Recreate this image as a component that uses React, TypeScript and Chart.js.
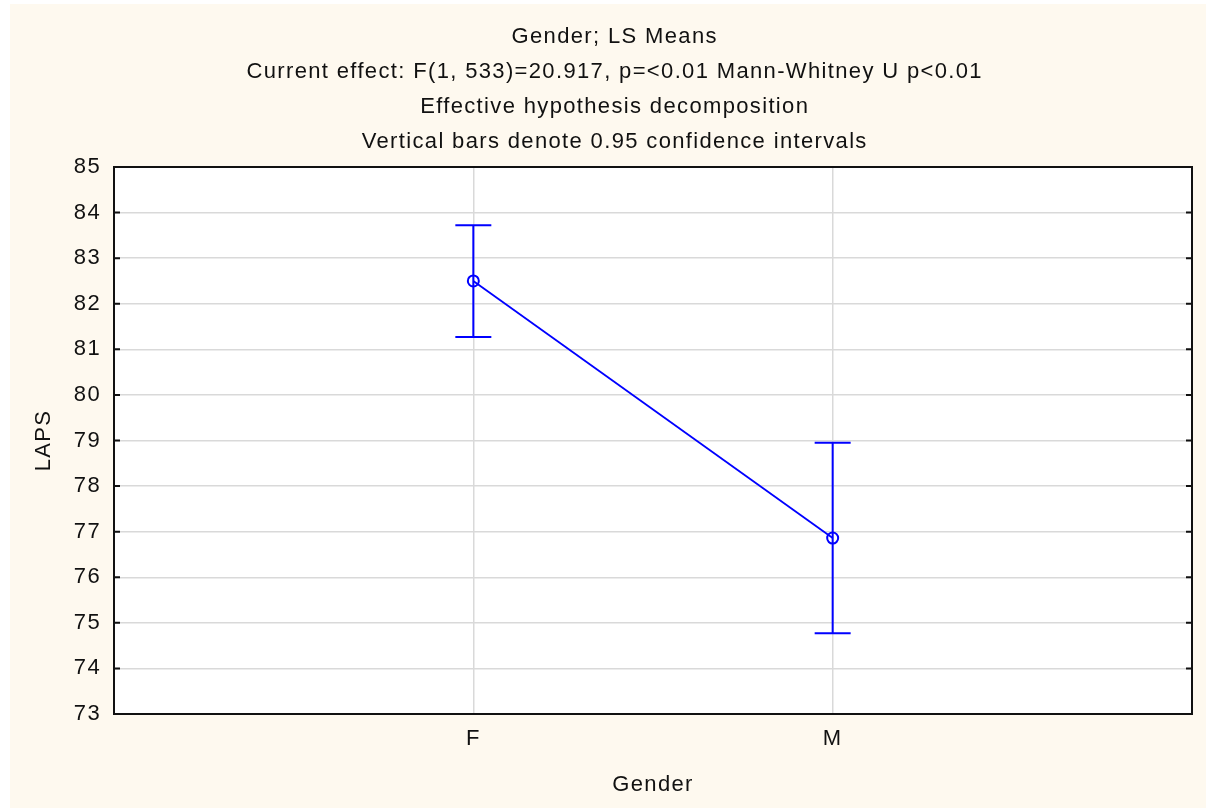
import React, { useEffect, useRef } from "react";
import { Chart, registerables } from "chart.js";

Chart.register(...registerables);

const categories = ["F", "M"];
const means = [82.5, 76.86];
const upperCI = [83.72, 78.95];
const lowerCI = [81.27, 74.77];
const titleLines = [
  "Gender; LS Means",
  "Current effect: F(1, 533)=20.917, p=<0.01 Mann-Whitney U p<0.01",
  "Effective hypothesis decomposition",
  "Vertical bars denote 0.95 confidence intervals",
];
const yMin = 73;
const yMax = 85;
const xAxisTitle = "Gender";
const yAxisTitle = "LAPS";

const FONT = "'Liberation Sans', Arial, Helvetica, sans-serif";
const BLUE = "#0000FF";
const SPACING = "1.35px";

export default function App() {
  const canvasRef = useRef<HTMLCanvasElement | null>(null);

  useEffect(() => {
    const canvas = canvasRef.current;
    if (!canvas) return;

    const framePlugin = {
      id: "frameAndBars",
      beforeDraw(chart: any) {
        const { ctx, chartArea } = chart;
        ctx.save();
        ctx.fillStyle = "#FFFFFF";
        ctx.fillRect(chartArea.left, chartArea.top, chartArea.right - chartArea.left, chartArea.bottom - chartArea.top);
        ctx.restore();
        (ctx as any).letterSpacing = SPACING;
      },
      afterDatasetsDraw(chart: any) {
        const { ctx } = chart;
        const xs = chart.scales.x;
        const ys = chart.scales.y;
        ctx.save();
        ctx.strokeStyle = BLUE;
        ctx.lineWidth = 2;
        const cap = 18;
        categories.forEach((_, i) => {
          const x = xs.getPixelForValue(i + 1);
          const yt = ys.getPixelForValue(upperCI[i]);
          const yb = ys.getPixelForValue(lowerCI[i]);
          ctx.beginPath();
          ctx.moveTo(x, yt);
          ctx.lineTo(x, yb);
          ctx.moveTo(x - cap, yt);
          ctx.lineTo(x + cap, yt);
          ctx.moveTo(x - cap, yb);
          ctx.lineTo(x + cap, yb);
          ctx.stroke();
        });
        ctx.restore();
      },
      afterDraw(chart: any) {
        const { ctx, chartArea } = chart;
        const ys = chart.scales.y;
        ctx.save();
        ctx.strokeStyle = "#111111";
        ctx.lineWidth = 2;
        ys.ticks.forEach((t: any) => {
          const y = ys.getPixelForValue(t.value);
          ctx.beginPath();
          ctx.moveTo(chartArea.left, y);
          ctx.lineTo(chartArea.left + 6, y);
          ctx.moveTo(chartArea.right, y);
          ctx.lineTo(chartArea.right - 6, y);
          ctx.stroke();
        });
        ctx.strokeRect(chartArea.left, chartArea.top, chartArea.right - chartArea.left, chartArea.bottom - chartArea.top);

        // multi-line title
        (ctx as any).letterSpacing = SPACING;
        ctx.fillStyle = "#111111";
        ctx.font = `22px ${FONT}`;
        ctx.textAlign = "center";
        ctx.textBaseline = "middle";
        const cx = 604.7;
        titleLines.forEach((line, i) => {
          ctx.fillText(line, cx, 32.6 + i * 35.2);
        });
        ctx.restore();
      },
    };

    const chart = new Chart(canvas, {
      type: "line",
      data: {
        datasets: [
          {
            data: means.map((m, i) => ({ x: i + 1, y: m })),
            borderColor: BLUE,
            borderWidth: 1.8,
            pointRadius: 5.5,
            pointBorderWidth: 2,
            pointBorderColor: BLUE,
            pointBackgroundColor: "rgba(0,0,0,0)",
            pointStyle: "circle",
            tension: 0,
            fill: false,
          },
        ],
      },
      options: {
        responsive: false,
        animation: false,
        layout: { padding: { left: 0, right: 14, top: 163, bottom: 0 } },
        plugins: {
          legend: { display: false },
          tooltip: { enabled: false },
          title: { display: false },
        },
        scales: {
          x: {
            type: "linear",
            min: 0,
            max: categories.length + 1,
            afterBuildTicks: (scale: any) => {
              scale.ticks = categories.map((_, i) => ({ value: i + 1 }));
            },
            afterFit: (scale: any) => {
              scale.height = 94;
            },
            ticks: {
              color: "#111111",
              font: { family: FONT, size: 22 },
              padding: 12,
              maxRotation: 0,
              autoSkip: false,
              callback: (v: any) => categories[Number(v) - 1] ?? "",
            },
            grid: { color: "#D9D9D9", lineWidth: 1.5, drawTicks: false },
            border: { display: false },
            title: {
              display: true,
              text: xAxisTitle,
              color: "#111111",
              font: { family: FONT, size: 22 },
              padding: { top: 0, bottom: 10 },
            },
          },
          y: {
            type: "linear",
            min: yMin,
            max: yMax,
            afterFit: (scale: any) => {
              scale.width = 104;
            },
            ticks: {
              stepSize: 1,
              color: "#111111",
              font: { family: FONT, size: 22 },
              padding: 13,
            },
            grid: { color: "#D9D9D9", lineWidth: 1.5, drawTicks: false },
            border: { display: false },
            title: {
              display: true,
              text: yAxisTitle,
              color: "#111111",
              font: { family: FONT, size: 22 },
              padding: { top: 21, bottom: 0 },
            },
          },
        },
      },
      plugins: [framePlugin],
    } as any);

    return () => {
      chart.destroy();
    };
  }, []);

  return (
    <div style={{ position: "fixed", left: 0, top: 0, width: 1206, height: 809, background: "#FFFFFF" }}>
      <div style={{ position: "absolute", left: 10, top: 4, width: 1196, height: 804, background: "#FEF9EF" }}>
        <canvas ref={canvasRef} width={1196} height={804} style={{ display: "block", width: 1196, height: 804 }} />
      </div>
    </div>
  );
}
